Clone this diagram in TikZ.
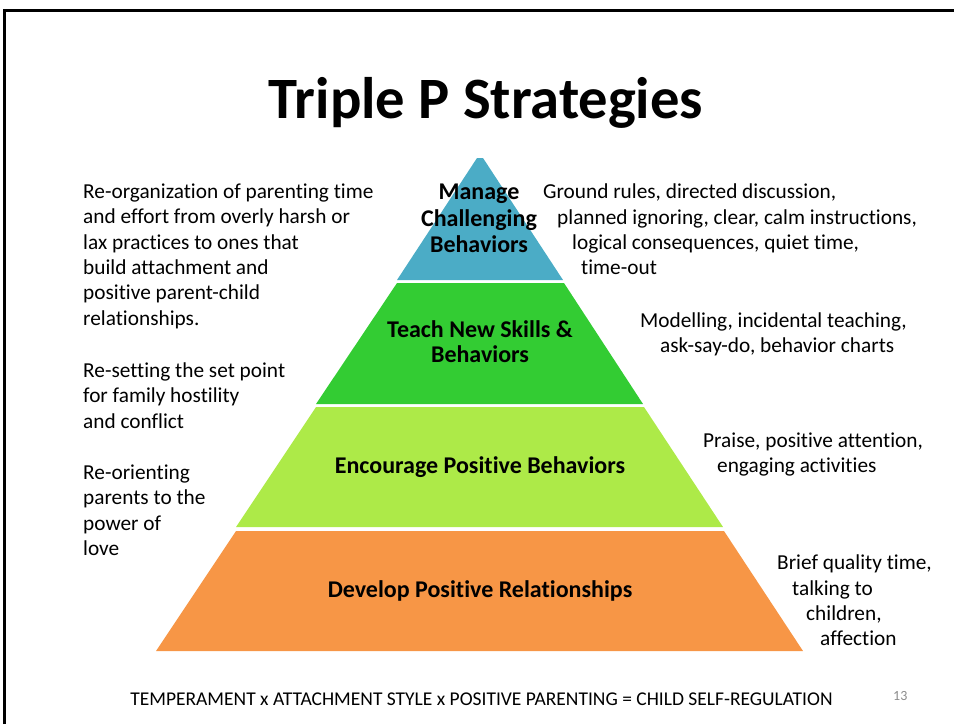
\documentclass[tikz,border=0pt]{standalone}
\usepackage{fontspec}
\setmainfont{Carlito}[RawFeature={-liga;-clig}]
\definecolor{lvblue}{HTML}{4BACC6}
\definecolor{lvgreen}{HTML}{33CC33}
\definecolor{lvlime}{HTML}{ADEA48}
\definecolor{lvorange}{HTML}{F79646}
\definecolor{pgnum}{HTML}{8C8C8C}
\tikzset{
  body/.style={anchor=base west, inner sep=0pt, font=\fontsize{21.3}{25}\selectfont},
  lbl/.style={anchor=base, inner sep=0pt, font=\fontsize{24}{26}\selectfont\bfseries},
  layer/.style={draw=none}
}
\begin{document}
\begin{tikzpicture}[x=1pt,y=-1pt]
\useasboundingbox (0,0) rectangle (954,724);
% slide frame
\draw[line width=2.5pt] (4.5,724) -- (4.5,10.5) -- (954,10.5);
% title
\node[anchor=base, inner sep=0pt, font=\fontsize{58.6}{64}\selectfont\bfseries] (title) at (486,118) {Triple P Strategies};
% pyramid layers
\fill[lvblue]   (477,158) -- (483,158) -- (563,280) -- (397,280) -- cycle;
\fill[lvgreen]  (397,283) -- (564,283) -- (643,404) -- (316,404) -- cycle;
\fill[lvlime]   (316,407) -- (644,407) -- (723,527) -- (236,527) -- cycle;
\fill[lvorange] (236,531) -- (724,531) -- (803,651) -- (156,651) -- cycle;
% pyramid labels
\node[lbl] (m1) at (479,199) {Manage};
\node[lbl] (m2) at (479,226) {Challenging};
\node[lbl] (m3) at (479,252) {Behaviors};
\node[lbl] (t1) at (480,337) {Teach New Skills \&};
\node[lbl] (t2) at (480,362) {Behaviors};
\node[lbl] (e1) at (480,473) {Encourage Positive Behaviors};
\node[lbl] (d1) at (480,597) {Develop Positive Relationships};
% left texts
\node[body] (la1) at (83,198) {Re-organization of parenting time};
\node[body] (la2) at (83,223.5) {and effort from overly harsh or};
\node[body] (la3) at (83,249) {lax practices to ones that};
\node[body] (la4) at (83,274) {build attachment and};
\node[body] (la5) at (83,299.5) {positive parent-child};
\node[body] (la6) at (83,325) {relationships.};
\node[body] (lb1) at (83,377) {Re-setting the set point};
\node[body] (lb2) at (83,402.5) {for family hostility};
\node[body] (lb3) at (83,428) {and conflict};
\node[body] (lc1) at (83,479) {Re-orienting};
\node[body] (lc2) at (83,504.5) {parents to the};
\node[body] (lc3) at (83,530) {power of};
\node[body] (lc4) at (83,555.5) {love};
% right texts
\node[body] (ra1) at (543,198) {Ground rules, directed discussion,};
\node[body] (ra2) at (557,224) {planned ignoring, clear, calm instructions,};
\node[body] (ra3) at (572,249) {logical consequences, quiet time,};
\node[body] (ra4) at (581,274) {time-out};
\node[body] (rb1) at (640,327) {Modelling, incidental teaching,};
\node[body] (rb2) at (660,352) {ask-say-do, behavior charts};
\node[body] (rc1) at (703,447.5) {Praise, positive attention,};
\node[body] (rc2) at (717,472.5) {engaging activities};
\node[body] (rd1) at (777,569.5) {Brief quality time,};
\node[body] (rd2) at (792,595) {talking to};
\node[body] (rd3) at (806,620) {children,};
\node[body] (rd4) at (820,645) {affection};
% footer
\node[anchor=base, inner sep=0pt, font=\fontsize{19.5}{21}\selectfont] (foot) at (481.5,705) {TEMPERAMENT x ATTACHMENT STYLE x POSITIVE PARENTING = CHILD SELF-REGULATION};
\node[anchor=base west, inner sep=0pt, text=pgnum, font=\fontsize{14}{16}\selectfont] (pg) at (893,700) {13};
\end{tikzpicture}
\end{document}
